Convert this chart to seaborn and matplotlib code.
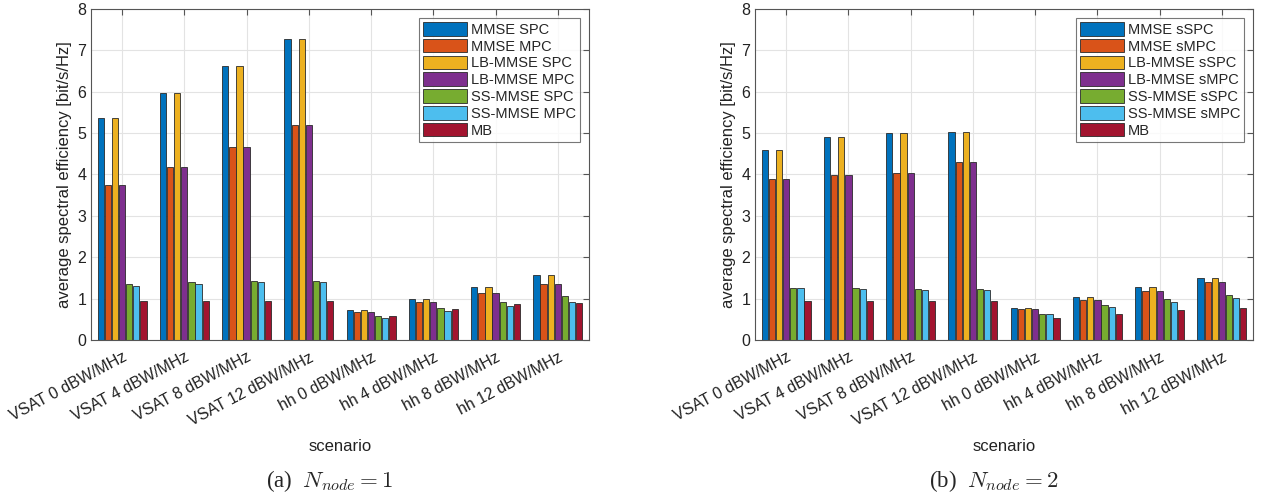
import numpy as np
import pandas as pd
import seaborn as sns
import matplotlib
matplotlib.use("Agg")
import matplotlib.pyplot as plt

scenarios = ["VSAT 0 dBW/MHz", "VSAT 4 dBW/MHz", "VSAT 8 dBW/MHz", "VSAT 12 dBW/MHz",
             "hh 0 dBW/MHz", "hh 4 dBW/MHz", "hh 8 dBW/MHz", "hh 12 dBW/MHz"]

methods_a = ["MMSE SPC", "MMSE MPC", "LB-MMSE SPC", "LB-MMSE MPC",
             "SS-MMSE SPC", "SS-MMSE MPC", "MB"]
methods_b = ["MMSE sSPC", "MMSE sMPC", "LB-MMSE sSPC", "LB-MMSE sMPC",
             "SS-MMSE sSPC", "SS-MMSE sMPC", "MB"]

# rows = methods, columns = scenarios
values_a = [
    [5.37, 5.98, 6.61, 7.27, 0.72, 0.99, 1.28, 1.56],
    [3.75, 4.19, 4.67, 5.19, 0.67, 0.91, 1.13, 1.35],
    [5.37, 5.98, 6.61, 7.27, 0.72, 0.99, 1.28, 1.56],
    [3.75, 4.19, 4.67, 5.19, 0.67, 0.91, 1.13, 1.35],
    [1.35, 1.39, 1.42, 1.43, 0.57, 0.77, 0.93, 1.06],
    [1.30, 1.35, 1.39, 1.39, 0.53, 0.69, 0.81, 0.93],
    [0.95, 0.95, 0.95, 0.95, 0.58, 0.74, 0.86, 0.89],
]
values_b = [
    [4.60, 4.90, 5.00, 5.02, 0.77, 1.03, 1.27, 1.49],
    [3.90, 3.98, 4.04, 4.29, 0.74, 0.97, 1.19, 1.39],
    [4.60, 4.90, 5.00, 5.02, 0.77, 1.03, 1.27, 1.49],
    [3.90, 3.98, 4.04, 4.29, 0.74, 0.97, 1.19, 1.39],
    [1.26, 1.25, 1.23, 1.23, 0.64, 0.84, 0.99, 1.08],
    [1.25, 1.23, 1.22, 1.22, 0.62, 0.79, 0.93, 1.01],
    [0.95, 0.95, 0.95, 0.95, 0.52, 0.64, 0.72, 0.77],
]

colors = ["#0072BD", "#D95319", "#EDB120", "#7E2F8E", "#77AC30", "#4DBEEE", "#A2142F"]

sns.set_style("white")
plt.rcParams["font.family"] = ["Liberation Sans", "DejaVu Sans"]
plt.rcParams["mathtext.fontset"] = "cm"


def long_df(methods, values):
    rows = []
    for m, vals in zip(methods, values):
        for s, v in zip(scenarios, vals):
            rows.append((s, m, v))
    return pd.DataFrame(rows, columns=["scenario", "method", "value"])


fig = plt.figure(figsize=(12.62, 4.98), dpi=100)
ax_a = fig.add_axes([0.0721, 0.3173, 0.3946, 0.6647])
ax_b = fig.add_axes([0.5983, 0.3173, 0.3946, 0.6647])

panels = [(ax_a, methods_a, values_a, "(a)  $N_{node}=1$"),
          (ax_b, methods_b, values_b, "(b)  $N_{node}=2$")]

for ax, methods, values, caption in panels:
    df = long_df(methods, values)
    sns.barplot(data=df, x="scenario", y="value", hue="method", order=scenarios,
                hue_order=methods, palette=colors, ax=ax, gap=0.12, saturation=1,
                edgecolor="#2a2a2a", linewidth=0.6, width=0.8)
    ax.set_ylim(0, 8)
    ax.set_xlim(-0.5, len(scenarios) - 0.5)
    ax.set_yticks(range(0, 9))
    ax.grid(True, color="#e3e3e3", linewidth=0.8)
    ax.set_axisbelow(True)
    ax.tick_params(direction="in", top=True, right=True, length=4,
                   color="#555555", labelsize=11.5, colors="#222222")
    ax.tick_params(axis="x", pad=7)
    plt.setp(ax.get_xticklabels(), rotation=28, ha="right", rotation_mode="anchor")
    for sp in ax.spines.values():
        sp.set_color("#555555")
        sp.set_linewidth(0.8)
    ax.set_xlabel("scenario", fontsize=12, color="#222222", labelpad=8)
    ax.set_ylabel("average spectral efficiency [bit/s/Hz]", fontsize=12, color="#222222")
    leg = ax.legend(loc="upper right", fontsize=10.5, frameon=True, fancybox=False,
                    edgecolor="#555555", handlelength=3.0, handleheight=1.05,
                    labelspacing=0.14, borderpad=0.3, handletextpad=0.25,
                    borderaxespad=0.6)
    leg.get_frame().set_linewidth(0.8)
    bb = ax.get_position()
    fig.text(bb.x0 + bb.width / 2 - 0.008, 0.035, caption, ha="center", va="center",
             fontsize=16.5, family=["Liberation Serif", "DejaVu Serif"])

fig.savefig("out.png", dpi=100)
